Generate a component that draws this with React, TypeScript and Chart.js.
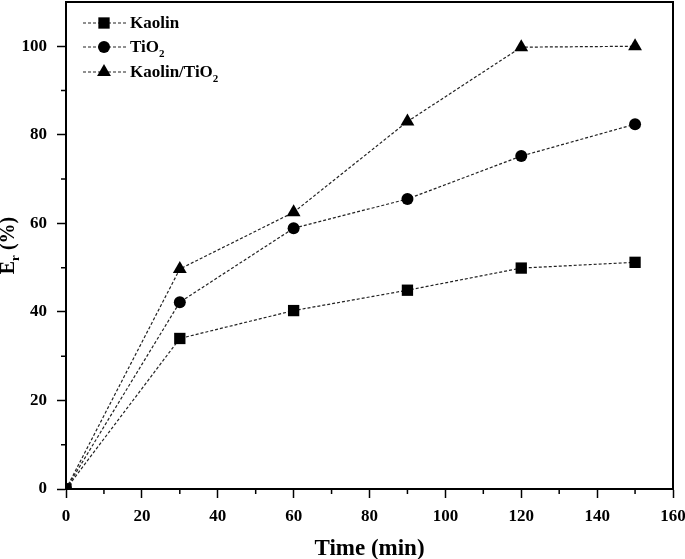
import React, { useEffect, useRef } from "react";
import { Chart, registerables } from "chart.js";

Chart.register(...registerables);

// ---- data ----
const timeMin = [0, 30, 60, 90, 120, 150];
const kaolin = [0, 34, 40.3, 44.9, 49.9, 51.2];
const tio2 = [0, 42.2, 58.9, 65.5, 75.2, 82.4];
const kaolinTio2 = [0, 49.7, 62.5, 83, 99.8, 100];
const xTicks = [0, 20, 40, 60, 80, 100, 120, 140, 160];
const yTicks = [0, 20, 40, 60, 80, 100];
const xMinor = [10, 30, 50, 70, 90, 110, 130, 150];
const yMinor = [10, 30, 50, 70, 90];
const legendLabels = [
  [{ t: "Kaolin" }],
  [{ t: "TiO" }, { t: "2", sub: true }],
  [{ t: "Kaolin/TiO" }, { t: "2", sub: true }],
];
const xTitle = "Time (min)";
const yTitleParts = [{ t: "E" }, { t: "r", sub: true }, { t: " (%)" }];

const FONT = "'Liberation Serif', 'Times New Roman', serif";
const markerStyles = ["rect", "circle", "triangle"];
const markerRadius = [8, 6, 8];

function drawMarker(ctx, style, x, y, r) {
  ctx.beginPath();
  if (style === "rect") {
    const s = (r * Math.SQRT2) / 2;
    ctx.rect(x - s, y - s, 2 * s, 2 * s);
  } else if (style === "circle") {
    ctx.arc(x, y, r, 0, Math.PI * 2);
  } else {
    for (let i = 0; i < 3; i++) {
      const a = (i * 2 * Math.PI) / 3;
      const px = x + Math.sin(a) * r;
      const py = y - Math.cos(a) * r;
      if (i === 0) ctx.moveTo(px, py);
      else ctx.lineTo(px, py);
    }
    ctx.closePath();
  }
  ctx.fill();
}

function drawParts(ctx, parts, x, y, size, subSize, subDrop) {
  let cx = x;
  for (const p of parts) {
    ctx.font = `bold ${p.sub ? subSize : size}px ${FONT}`;
    ctx.fillText(p.t, cx, p.sub ? y + subDrop : y);
    cx += ctx.measureText(p.t).width;
  }
  return cx - x;
}

function measureParts(ctx, parts, size, subSize) {
  let w = 0;
  for (const p of parts) {
    ctx.font = `bold ${p.sub ? subSize : size}px ${FONT}`;
    w += ctx.measureText(p.t).width;
  }
  return w;
}

const decorPlugin = {
  id: "decor",
  afterDraw(chart) {
    const { ctx, chartArea } = chart;
    const { left, right, top, bottom } = chartArea;
    const xs = chart.scales.x;
    const ys = chart.scales.y;
    ctx.save();
    // frame top/right
    ctx.strokeStyle = "#000";
    ctx.lineWidth = 2;
    ctx.beginPath();
    ctx.moveTo(left, top);
    ctx.lineTo(right, top);
    ctx.lineTo(right, bottom);
    ctx.stroke();
    // minor ticks
    ctx.lineWidth = 1.5;
    ctx.beginPath();
    for (const v of xMinor) {
      const px = xs.getPixelForValue(v);
      ctx.moveTo(px, bottom);
      ctx.lineTo(px, bottom + 5);
    }
    for (const v of yMinor) {
      const py = ys.getPixelForValue(v);
      ctx.moveTo(left, py);
      ctx.lineTo(left - 5, py);
    }
    ctx.stroke();

    ctx.fillStyle = "#000";
    // x title
    ctx.textBaseline = "alphabetic";
    ctx.textAlign = "center";
    ctx.font = `bold 23px ${FONT}`;
    ctx.fillText(xTitle, (left + right) / 2, 555);

    // y title
    ctx.textAlign = "left";
    const w = measureParts(ctx, yTitleParts, 20, 13);
    ctx.save();
    ctx.translate(14, (top + bottom) / 2);
    ctx.rotate(-Math.PI / 2);
    drawParts(ctx, yTitleParts, -w / 2, 0, 20, 13, 5);
    ctx.restore();

    // legend
    const rows = [23, 47, 72];
    rows.forEach((ry, i) => {
      ctx.strokeStyle = "#222";
      ctx.lineWidth = 1.2;
      ctx.setLineDash([3, 2]);
      ctx.beginPath();
      ctx.moveTo(83, ry);
      ctx.lineTo(126, ry);
      ctx.stroke();
      ctx.setLineDash([]);
      ctx.fillStyle = "#000";
      drawMarker(ctx, markerStyles[i], 104, ry, markerRadius[i]);
      ctx.textBaseline = "middle";
      drawParts(ctx, legendLabels[i], 130, ry + 1, 17, 11, 6);
    });
    ctx.restore();
  },
};

export default function App() {
  const ref = useRef(null);
  useEffect(() => {
    const series = [kaolin, tio2, kaolinTio2];
    const chart = new Chart(ref.current, {
      type: "line",
      data: {
        datasets: series.map((s, i) => ({
          label: "s" + i,
          data: timeMin.map((t, j) => ({ x: t, y: s[j] })),
          borderColor: "#222",
          borderWidth: 1.2,
          borderDash: [3, 2],
          pointStyle: markerStyles[i],
          pointRadius: markerRadius[i],
          pointBackgroundColor: "#000",
          pointBorderWidth: 0,
          tension: 0,
          fill: false,
        })),
      },
      plugins: [decorPlugin],
      options: {
        animation: false,
        responsive: true,
        maintainAspectRatio: false,
        layout: { autoPadding: false, padding: { left: 0, top: 2, right: 12, bottom: 0 } },
        plugins: { legend: { display: false }, tooltip: { enabled: false } },
        scales: {
          x: {
            type: "linear",
            min: 0,
            max: 160,
            afterFit: (s) => {
              s.height = 70;
              s.paddingLeft = 0;
              s.paddingRight = 0;
              s.paddingTop = 0;
              s.paddingBottom = 0;
            },
            afterBuildTicks: (s) => { s.ticks = xTicks.map((v) => ({ value: v })); },
            grid: { drawOnChartArea: false, tickLength: 9, tickWidth: 1.5, tickColor: "#000" },
            border: { color: "#000", width: 2 },
            ticks: { color: "#000", font: { family: FONT, size: 17, weight: "bold" }, padding: 8, maxRotation: 0 },
          },
          y: {
            type: "linear",
            min: 0,
            max: 110,
            afterFit: (s) => {
              s.width = 66;
              s.paddingLeft = 0;
              s.paddingRight = 0;
              s.paddingTop = 0;
              s.paddingBottom = 0;
            },
            afterBuildTicks: (s) => { s.ticks = yTicks.map((v) => ({ value: v })); },
            grid: { drawOnChartArea: false, tickLength: 9, tickWidth: 1.5, tickColor: "#000" },
            border: { color: "#000", width: 2 },
            ticks: { color: "#000", font: { family: FONT, size: 17, weight: "bold" }, padding: 10 },
          },
        },
      },
    });
    return () => chart.destroy();
  }, []);
  return (
    <div style={{ position: "absolute", left: 0, top: 0, width: 685, height: 559, background: "#fff" }}>
      <canvas ref={ref} />
    </div>
  );
}
